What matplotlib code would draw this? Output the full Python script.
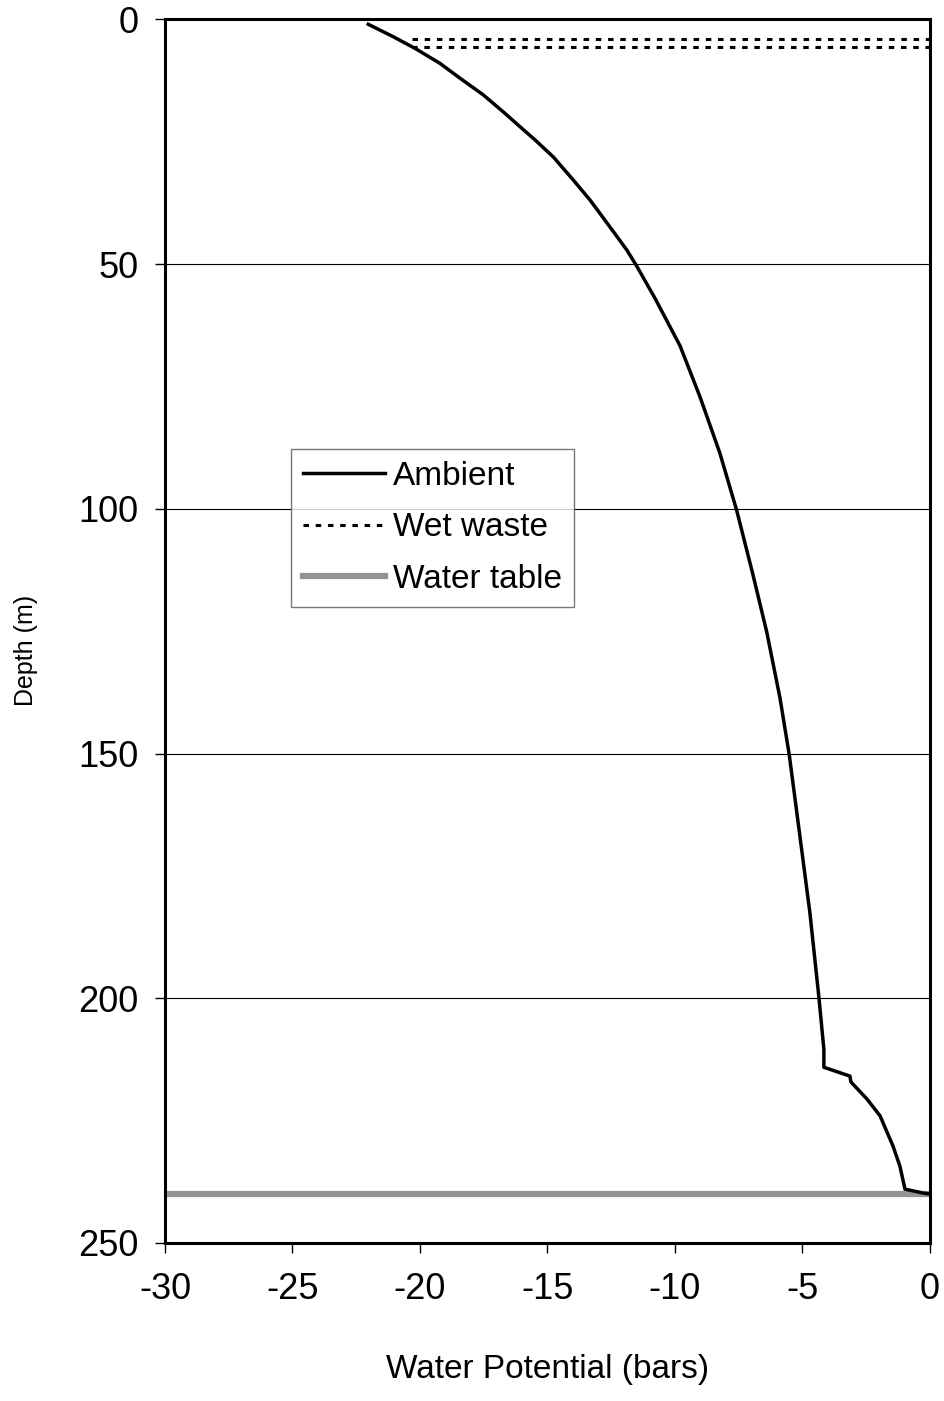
import matplotlib
matplotlib.use("Agg")
import matplotlib.pyplot as plt

plt.rcParams['font.family'] = ['Liberation Sans', 'DejaVu Sans']
plt.rcParams['axes.unicode_minus'] = False

# Ambient water potential profile (bars) vs depth (m)
amb_x = [-22.03, -21.05, -20.2, -19.22, -18.43, -17.52, -16.73, -16.08, -15.49,
         -14.77, -13.99, -13.33, -12.55, -11.89, -11.5, -10.78, -9.8, -9.02,
         -8.24, -7.58, -6.93, -6.4, -5.88, -5.52, -5.1, -4.71, -4.35, -4.16,
         -4.16, -3.14, -3.1, -2.47, -1.96, -1.45, -1.18, -0.98, -0.27, 0.0]
amb_d = [0.98, 3.52, 5.89, 8.96, 12.0, 15.4, 18.9, 21.9, 24.6,
         28.1, 32.8, 36.9, 42.4, 47.1, 50.4, 57.0, 66.7, 77.1,
         88.6, 100.3, 113.7, 125.2, 138.7, 150.2, 166.9, 182.5, 200.1, 210.5,
         214.1, 215.9, 217.1, 220.6, 224.0, 230.2, 234.3, 239.0, 239.8, 240.0]

# wet waste front near surface
wet_x = [-20.3, 0.0, 0.0, -20.3]
wet_d = [4.05, 4.05, 5.56, 5.56]

# water table
wt_x = [-30, 0]
wt_d = [240, 240]

fig = plt.figure(figsize=(9.45, 14.01), dpi=100)
ax = fig.add_axes([0.1746, 0.1128, 0.8095, 0.8733])

ax.plot(amb_x, amb_d, color='black', lw=2.5, label='Ambient', zorder=4)
ax.plot(wet_x, wet_d, color='black', lw=2.2, linestyle=(0, (1.8, 2.2)),
        label='Wet waste', zorder=3)
ax.plot(wt_x, wt_d, color='#939393', lw=4.5, label='Water table', zorder=2)

ax.set_xlim(-30, 0)
ax.set_ylim(250, 0)
ax.set_xticks([-30, -25, -20, -15, -10, -5, 0])
ax.set_yticks([0, 50, 100, 150, 200, 250])
for y in [50, 100, 150, 200]:
    ax.axhline(y, color='black', lw=0.8, zorder=1)

for s in ax.spines.values():
    s.set_linewidth(2.2)
    s.set_color('black')

ax.tick_params(axis='both', labelsize=26, direction='out', length=7,
               width=1.0, color='black')
ax.tick_params(axis='x', pad=14)
ax.tick_params(axis='y', pad=12)

ax.set_xlabel('Water Potential (bars)', fontsize=24, labelpad=34)
ax.set_ylabel('Depth (m)', fontsize=18)
ax.yaxis.set_label_coords(-0.166, 0.484)

leg = ax.legend(loc='upper left', bbox_to_anchor=(0.165, 0.649), fontsize=24,
                frameon=True, fancybox=False, handlelength=2.45,
                handletextpad=0.25, borderpad=0.35, labelspacing=0.62,
                borderaxespad=0)
leg.get_frame().set_edgecolor('#555555')
leg.get_frame().set_linewidth(1.0)

fig.savefig('out.png', dpi=100)
